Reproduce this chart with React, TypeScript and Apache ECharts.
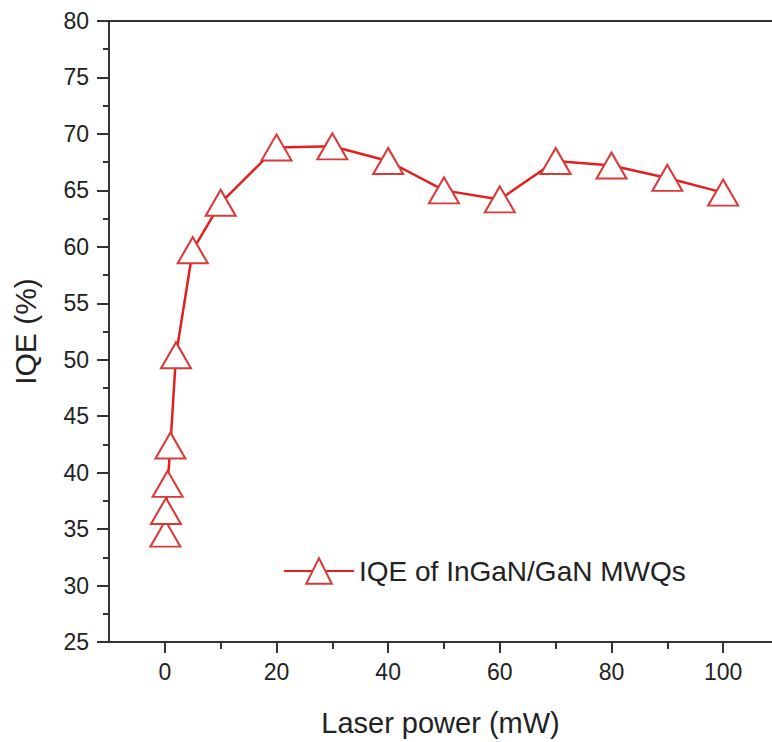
import React, { useEffect, useRef } from "react";
import * as echarts from "echarts";

const laserPower = [0.1, 0.2, 0.5, 1, 2, 5, 10, 20, 30, 40, 50, 60, 70, 80, 90, 100];
const iqeValues = [34.6, 36.6, 39.0, 42.4, 50.4, 59.7, 63.9, 68.8, 68.9, 67.6, 65.0, 64.2, 67.6, 67.2, 66.1, 64.8];
const xMajorTicks = [0, 20, 40, 60, 80, 100];
const xMinorTicks = [10, 30, 50, 70, 90];
const seriesName = "IQE of InGaN/GaN MWQs";

const FONT = "'Liberation Sans', Arial, sans-serif";

export default function App() {
  const ref = useRef<HTMLDivElement>(null);
  useEffect(() => {
    if (!ref.current) return;
    const chart = echarts.init(ref.current, undefined, { renderer: "svg" });
    const axisLineStyle = { color: "#333", width: 2 };
    chart.setOption({
      animation: false,
      backgroundColor: "#fff",
      textStyle: { fontFamily: FONT },
      grid: { left: 109, top: 21, right: 0, bottom: 100, containLabel: false },
      legend: {
        left: 283,
        top: 557,
        padding: 0,
        itemWidth: 70,
        itemHeight: 32,
        itemGap: 5,
        textStyle: { fontSize: 28, color: "#222", fontFamily: FONT },
        data: [seriesName],
      },
      xAxis: [
        {
          type: "value",
          position: "bottom",
          min: -10,
          max: 108.75,
          axisLine: { show: true, onZero: false, lineStyle: axisLineStyle },
          axisTick: { show: true, inside: false, length: 11, lineStyle: { color: "#333", width: 2 }, customValues: xMajorTicks },
          axisLabel: { show: true, fontSize: 23, color: "#222", margin: 18, fontFamily: FONT, customValues: xMajorTicks },
          splitLine: { show: false },
          name: "Laser power (mW)",
          nameLocation: "middle",
          nameGap: 66,
          nameTextStyle: { fontSize: 29, color: "#222", fontFamily: FONT },
        },
        {
          type: "value",
          position: "bottom",
          min: -10,
          max: 108.75,
          axisLine: { show: false, onZero: false },
          axisTick: { show: true, inside: false, length: 7, lineStyle: { color: "#333", width: 2 }, customValues: xMinorTicks },
          axisLabel: { show: false },
          splitLine: { show: false },
        },
        {
          type: "value",
          position: "top",
          min: -10,
          max: 108.75,
          axisLine: { show: true, onZero: false, lineStyle: axisLineStyle },
          axisTick: { show: false },
          axisLabel: { show: false },
          splitLine: { show: false },
        },
      ],
      yAxis: {
        type: "value",
        min: 25,
        max: 80,
        interval: 5,
        axisLine: { show: true, onZero: false, lineStyle: axisLineStyle },
        axisTick: { show: true, inside: false, length: 12, lineStyle: { color: "#333", width: 2 } },
        minorTick: { show: true, splitNumber: 2, length: 6, lineStyle: { color: "#333", width: 2 } },
        axisLabel: { fontSize: 23, color: "#222", margin: 20, fontFamily: FONT },
        splitLine: { show: false },
        name: "IQE (%)",
        nameLocation: "middle",
        nameGap: 69,
        nameTextStyle: { fontSize: 30, color: "#222", fontFamily: FONT },
      },
      series: [
        {
          name: seriesName,
          type: "line",
          xAxisIndex: 0,
          data: laserPower.map((x, i) => [x, iqeValues[i]]),
          symbol: "triangle",
          symbolSize: [30, 26],
          showAllSymbol: true,
          lineStyle: { color: "#e3201e", width: 2.5 },
          itemStyle: { color: "#fff", borderColor: "#d83a3a", borderWidth: 2 },
          z: 3,
        },
      ],
    });
    return () => chart.dispose();
  }, []);
  return <div ref={ref} style={{ position: "absolute", left: 0, top: 0, width: 772, height: 742 }} />;
}
